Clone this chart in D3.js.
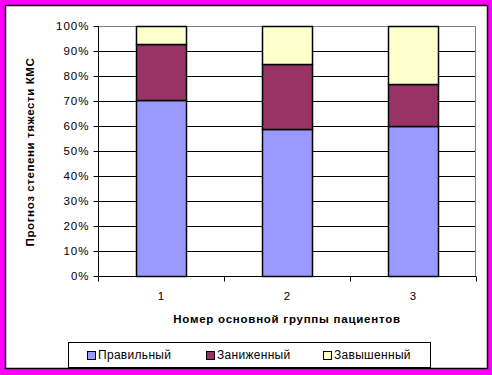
<!DOCTYPE html>
<html>
<head>
<meta charset="utf-8">
<script src="https://cdn.jsdelivr.net/npm/d3@7"></script>
<style>
  body { margin: 0; background: #fff; }
  text { font-family: "Liberation Sans", Arial, sans-serif; }
</style>
</head>
<body>
<svg id="chart"></svg>
<script>
// Chart data (percent of patients in each group)
const groups = ['1', '2', '3'];
const correct = [70.6, 58.8, 60.0];
const under = [22.1, 26.0, 16.7];
const over = [7.3, 15.2, 23.3];
const seriesNames = ['Правильный', 'Заниженный', 'Завышенный'];
const seriesColors = ['#9999FF', '#993366', '#FFFFCC'];
const yTicks = [0, 10, 20, 30, 40, 50, 60, 70, 80, 90, 100];

const W = 492, H = 375;
const plot = { left: 98, top: 26, right: 476, bottom: 276 };
const width = plot.right - plot.left;
const height = plot.bottom - plot.top;

const svg = d3.select('#chart')
  .attr('width', W)
  .attr('height', H);

// magenta frame + white chart area
svg.append('rect').attr('width', W).attr('height', H).attr('fill', '#FF00FF');
svg.append('rect')
  .attr('x', 5.5).attr('y', 5.5)
  .attr('width', 482).attr('height', 363)
  .attr('fill', '#fff')
  .attr('stroke', '#000')
  .attr('stroke-width', 1.5);

const g = svg.append('g')
  .attr('transform', `translate(${plot.left}, ${plot.top})`);

// build rows for stacking
const table = groups.map((k, i) => ({
  group: k,
  [seriesNames[0]]: correct[i],
  [seriesNames[1]]: under[i],
  [seriesNames[2]]: over[i]
}));
const stacked = d3.stack().keys(seriesNames)(table);

const xScale = d3.scaleBand()
  .domain(groups)
  .range([0, width])
  .paddingInner(0)
  .paddingOuter(0);

const yScale = d3.scaleLinear()
  .domain([0, 100])
  .range([height, 0]);

// plot border (gray) top & right
g.append('path')
  .attr('d', `M0,0.5H${width - 0.5}V${height}`)
  .attr('fill', 'none')
  .attr('stroke', '#808080');

// gridlines
g.append('g')
  .selectAll('line')
  .data(yTicks.filter(t => t > 0 && t < 100))
  .enter()
  .append('line')
  .attr('x1', 0)
  .attr('x2', width - 1)
  .attr('y1', d => Math.round(yScale(d)) + 0.5)
  .attr('y2', d => Math.round(yScale(d)) + 0.5)
  .attr('stroke', '#000');

// bars
const barW = 50;
g.selectAll('.layer')
  .data(stacked)
  .enter()
  .append('g')
  .attr('class', 'layer')
  .attr('fill', (d, i) => seriesColors[i])
  .selectAll('rect')
  .data(d => d)
  .enter()
  .append('rect')
  .attr('x', d => Math.round(xScale(d.data.group) + (xScale.bandwidth() - barW) / 2) + 0.5)
  .attr('y', d => Math.round(yScale(d[1])) + 0.5)
  .attr('width', barW)
  .attr('height', d => Math.round(yScale(d[0])) - Math.round(yScale(d[1])))
  .attr('stroke', '#000')
  .attr('stroke-width', 1.5);

// y axis
const yAxis = d3.axisLeft(yScale)
  .tickValues(yTicks)
  .tickSize(5)
  .tickFormat(d => d + '%');
const yG = g.append('g').attr('transform', 'translate(0.5,0)').call(yAxis);
yG.select('.domain').attr('stroke', '#000').attr('d', `M0,0V${height}`);
yG.selectAll('.tick line').attr('stroke', '#000');
yG.selectAll('.tick text')
  .attr('x', -9)
  .attr('font-size', 11.5)
  .attr('letter-spacing', 1)
  .attr('fill', '#000')
  .style('font-family', '"Liberation Sans", Arial, sans-serif');

// x axis: ticks at category boundaries
const xG = g.append('g').attr('transform', `translate(0, ${height + 0.5})`);
xG.append('line')
  .attr('x1', 0).attr('x2', width)
  .attr('stroke', '#000');
xG.selectAll('.xt')
  .data(d3.range(groups.length + 1))
  .enter()
  .append('line')
  .attr('x1', i => Math.round(i * xScale.step()) + 0.5)
  .attr('x2', i => Math.round(i * xScale.step()) + 0.5)
  .attr('y1', 0).attr('y2', 5)
  .attr('stroke', '#000');
xG.selectAll('.xl')
  .data(groups)
  .enter()
  .append('text')
  .attr('x', d => xScale(d) + xScale.bandwidth() / 2)
  .attr('y', 23)
  .attr('text-anchor', 'middle')
  .attr('font-size', 11.5)
  .text(d => d);

// axis titles
svg.append('text')
  .attr('x', 287)
  .attr('y', 323)
  .attr('text-anchor', 'middle')
  .attr('font-size', 11.5)
  .attr('font-weight', 'bold')
  .attr('letter-spacing', 0.75)
  .text('Номер основной группы пациентов');

svg.append('text')
  .attr('transform', 'translate(34, 152) rotate(-90)')
  .attr('text-anchor', 'middle')
  .attr('font-size', 11.5)
  .attr('font-weight', 'bold')
  .attr('letter-spacing', 0.6)
  .text('Прогноз степени тяжести КМС');

// legend
const legend = svg.append('g');
legend.append('rect')
  .attr('x', 68.5).attr('y', 342.5)
  .attr('width', 362).attr('height', 25)
  .attr('fill', '#fff')
  .attr('stroke', '#000');
const legendX = [87, 206, 323];
seriesNames.forEach((name, i) => {
  legend.append('rect')
    .attr('x', legendX[i] + 0.5).attr('y', 351.5)
    .attr('width', 8).attr('height', 8)
    .attr('fill', seriesColors[i])
    .attr('stroke', '#000');
  legend.append('text')
    .attr('x', legendX[i] + 11)
    .attr('y', 359)
    .attr('font-size', 12)
    .attr('letter-spacing', 0.3)
    .text(name);
});
</script>
</body>
</html>
